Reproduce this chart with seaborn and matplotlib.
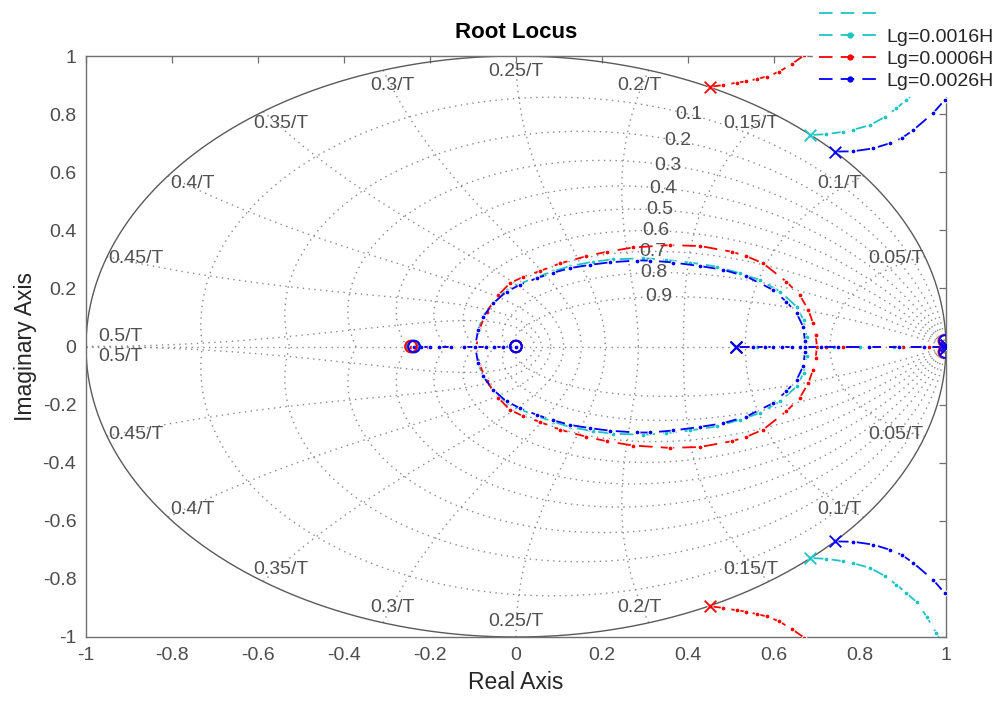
import numpy as np
import pandas as pd
import matplotlib
matplotlib.use("Agg")
import matplotlib.pyplot as plt
from matplotlib.lines import Line2D
import seaborn as sns

sns.set_theme(style="white")
plt.rcParams["font.family"] = ["Liberation Sans", "DejaVu Sans"]
plt.rcParams["lines.dashed_pattern"] = [7.5, 4.5]

# ---- data -------------------------------------------------------------
lg_labels = ["Lg=0.0016H", "Lg=0.0006H", "Lg=0.0026H"]
lg_colors = ["#1cc4c4", "#ff0000", "#0000ff"]

# complex pole branches (upper half; lower half is the conjugate)
cyan_pole_branch = [(0.684, 0.728), (0.722, 0.731), (0.761, 0.739), (0.784, 0.746),
                    (0.823, 0.762), (0.858, 0.790), (0.885, 0.820), (0.908, 0.849),
                    (0.932, 0.880), (0.955, 0.930), (0.978, 0.987), (0.99, 1.02)]
red_pole_branch = [(0.451, 0.894), (0.482, 0.900), (0.513, 0.908), (0.536, 0.913),
                   (0.560, 0.921), (0.583, 0.929), (0.612, 0.946), (0.641, 0.972),
                   (0.670, 1.002), (0.69, 1.04)]
blue_pole_branch = [(0.742, 0.671), (0.784, 0.672), (0.831, 0.682), (0.870, 0.700),
                    (0.897, 0.717), (0.924, 0.745), (0.970, 0.803), (0.998, 0.850),
                    (1.02, 0.88)]

# breakaway loops (upper half, from breakaway to break-in point)
cyan_loop = [(0.677, 0.0), (0.676, 0.034), (0.669, 0.091), (0.653, 0.137), (0.614, 0.189),
             (0.567, 0.229), (0.521, 0.252), (0.467, 0.275), (0.405, 0.289), (0.350, 0.298),
             (0.296, 0.304), (0.226, 0.300), (0.180, 0.292), (0.126, 0.277), (0.087, 0.259),
             (0.048, 0.239), (0.009, 0.216), (-0.022, 0.193), (-0.053, 0.152),
             (-0.076, 0.105), (-0.088, 0.058), (-0.093, 0.0)]
red_loop = [(0.700, 0.0), (0.697, 0.040), (0.691, 0.080), (0.680, 0.126), (0.660, 0.177),
            (0.629, 0.223), (0.575, 0.286), (0.536, 0.311), (0.502, 0.326), (0.428, 0.346),
            (0.358, 0.349), (0.273, 0.341), (0.211, 0.326), (0.164, 0.311), (0.102, 0.286),
            (0.056, 0.260), (0.017, 0.240), (-0.014, 0.218), (-0.041, 0.177),
            (-0.068, 0.120), (-0.085, 0.060), (-0.092, 0.0)]
blue_loop = [(0.673, 0.0), (0.672, 0.020), (0.668, 0.068), (0.653, 0.114), (0.629, 0.154),
             (0.598, 0.195), (0.536, 0.241), (0.482, 0.264), (0.428, 0.277), (0.366, 0.289),
             (0.312, 0.296), (0.281, 0.296), (0.219, 0.290), (0.172, 0.281), (0.126, 0.270),
             (0.087, 0.254), (0.048, 0.235), (0.009, 0.212), (-0.022, 0.189),
             (-0.053, 0.149), (-0.076, 0.103), (-0.088, 0.057), (-0.095, 0.0)]

# real-axis branches
cyan_real = [[0.512, 0.56, 0.60, 0.64, 0.677],
             [0.999, 0.95, 0.88, 0.80, 0.74, 0.70, 0.677],
             [-0.093, -0.12, -0.15, -0.18, -0.205, -0.225, -0.240],
             [-0.093, -0.07, -0.05, -0.03, -0.015, 0.0]]
red_real = [[0.512, 0.55, 0.598, 0.64, 0.67, 0.700],
            [0.999, 0.96, 0.90, 0.82, 0.76, 0.72, 0.700],
            [-0.092, -0.12, -0.15, -0.18, -0.205, -0.225, -0.244],
            [-0.092, -0.07, -0.05, -0.03, -0.015, 0.0]]
blue_real = [[0.512, 0.551, 0.579, 0.598, 0.619, 0.642, 0.660, 0.673],
             [0.999, 0.95, 0.89, 0.82, 0.75, 0.71, 0.673],
             [-0.095, -0.12, -0.15, -0.18, -0.20, -0.22, -0.237],
             [-0.095, -0.07, -0.05, -0.03, -0.015, 0.0]]

# open-loop poles and zeros (upper half + real)
cyan_poles = [(0.684, 0.728), (0.512, 0.0), (0.999, 0.006)]
red_poles = [(0.451, 0.894), (0.512, 0.0), (0.999, 0.006)]
blue_poles = [(0.742, 0.671), (0.512, 0.0), (0.999, 0.006)]
cyan_zeros = [(-0.240, 0.0), (0.0, 0.0), (0.997, 0.019)]
red_zeros = [(-0.244, 0.0), (0.0, 0.0), (0.996, 0.019)]
blue_zeros = [(-0.237, 0.0), (0.0, 0.0), (0.998, 0.019)]

zeta_values = [0.1, 0.2, 0.3, 0.4, 0.5, 0.6, 0.7, 0.8, 0.9]
zeta_label_theta = [1.105, 1.083, 1.056, 1.010, 0.951, 0.885, 0.799, 0.670, 0.478]
wn_labels = ["0.05/T", "0.1/T", "0.15/T", "0.2/T", "0.25/T",
             "0.3/T", "0.35/T", "0.4/T", "0.45/T", "0.5/T"]
ticks = [-1, -0.8, -0.6, -0.4, -0.2, 0, 0.2, 0.4, 0.6, 0.8, 1]
tick_text = ["-1", "-0.8", "-0.6", "-0.4", "-0.2", "0", "0.2", "0.4", "0.6", "0.8", "1"]

# ---- figure -------------------------------------------------------------
fig = plt.figure(figsize=(10.01, 7.02), dpi=100)
ax = fig.add_axes([0.0859, 0.0926, 0.8591, 0.8276])
ax.set_facecolor("white")

grid_kw = dict(color="#8a8a8a", lw=1.0, linestyle=(0, (1, 3.2)), zorder=1)
label_kw = dict(color="#505050", fontsize=14, ha="center", va="center", zorder=2)

# constant damping spirals
th = np.linspace(0, np.pi, 400)
for z, tl in zip(zeta_values, zeta_label_theta):
    m = z / np.sqrt(1 - z ** 2)
    r = np.exp(-m * th)
    ax.plot(r * np.cos(th), r * np.sin(th), **grid_kw)
    ax.plot(r * np.cos(th), -r * np.sin(th), **grid_kw)
    rl = np.exp(-m * tl)
    ax.text(rl * np.cos(tl), rl * np.sin(tl), f"{z:.1f}", **label_kw)
ax.plot([-1, 1], [0, 0], **grid_kw)

# constant natural-frequency curves
zz = np.linspace(0, 1, 300)
for k, lab in enumerate(wn_labels, start=1):
    wn = k * np.pi / 10
    s_re = -zz * wn
    s_im = wn * np.sqrt(1 - zz ** 2)
    zr = np.exp(s_re) * np.cos(s_im)
    zi = np.exp(s_re) * np.sin(s_im)
    ax.plot(zr, zi, **grid_kw)
    ax.plot(zr, -zi, **grid_kw)
    ang = wn
    lx, ly = 0.93 * np.cos(ang), 0.93 * np.sin(ang)
    if k == 10:
        ax.text(lx + 0.01, 0.035, lab, **label_kw)
        ax.text(lx + 0.01, -0.035, lab, **label_kw)
    else:
        ax.text(lx, ly + 0.015, lab, **label_kw)
        ax.text(lx, -ly - 0.015, lab, **label_kw)

# unit circle
uc = np.linspace(0, 2 * np.pi, 500)
ax.plot(np.cos(uc), np.sin(uc), color="#5a5a5a", lw=1.0, zorder=1.5)

# ---- root loci ------------------------------------------------------------
systems = [
    (cyan_pole_branch, cyan_loop, cyan_real, cyan_poles, cyan_zeros),
    (red_pole_branch, red_loop, red_real, red_poles, red_zeros),
    (blue_pole_branch, blue_loop, blue_real, blue_poles, blue_zeros),
]

line_kw = dict(linestyle="--", marker=".", markersize=7, lw=1.3, sort=False,
               estimator=None, legend=False, zorder=3)
handles = []
for (pole_br, loop, real_br, poles, zeros), col, lab in zip(systems, lg_colors, lg_labels):
    for sign in (1, -1):
        for pts in (pole_br, loop):
            df = pd.DataFrame(pts, columns=["re", "im"])
            df["im"] = sign * df["im"]
            sns.lineplot(data=df, x="re", y="im", color=col, ax=ax, **line_kw)
    for xs in real_br:
        df = pd.DataFrame({"re": xs, "im": [0.0] * len(xs)})
        sns.lineplot(data=df, x="re", y="im", color=col, ax=ax, **line_kw)
    pdf = pd.DataFrame(poles, columns=["re", "im"])
    pdf = pd.concat([pdf, pdf.assign(im=-pdf["im"])])
    zdf = pd.DataFrame(zeros, columns=["re", "im"])
    zdf = pd.concat([zdf, zdf.assign(im=-zdf["im"])])
    sns.scatterplot(data=pdf, x="re", y="im", marker="x", s=70, color=col,
                    linewidth=1.3, ax=ax, zorder=4, legend=False)
    sns.scatterplot(data=zdf, x="re", y="im", marker="o", s=70, facecolor="none",
                    edgecolor=col, linewidth=1.3, ax=ax, zorder=4, legend=False)
    handles.append(Line2D([], [], color=col, linestyle="--", marker=".",
                          markersize=7, lw=1.3, markevery=[0, -1]))

# ---- axes styling -----------------------------------------------------------
ax.set_xlim(-1, 1)
ax.set_ylim(-1, 1)
ax.set_xticks(ticks)
ax.set_xticklabels(tick_text)
ax.set_yticks(ticks)
ax.set_yticklabels(tick_text)
ax.tick_params(direction="in", top=True, right=True, length=5, width=0.9,
               color="#707070", labelcolor="#4d4d4d", labelsize=14, pad=7)
for sp in ax.spines.values():
    sp.set_color("#707070")
    sp.set_linewidth(1.0)
ax.grid(False)
ax.set_xlabel("Real Axis", fontsize=16.5, color="#262626", labelpad=5)
ax.set_ylabel("Imaginary Axis", fontsize=16.5, color="#262626", labelpad=4)
ax.set_title("Root Locus", fontsize=16, fontweight="bold", color="black", pad=13)

blank = Line2D([], [], color=lg_colors[0], linestyle="--", lw=1.3)
leg = fig.legend([blank] + handles, [""] + lg_labels, loc="upper right",
                 bbox_to_anchor=(0.998, 0.999), fontsize=14, frameon=True,
                 facecolor="white", edgecolor="white", framealpha=1.0,
                 handlelength=3.25, handletextpad=0.2, labelspacing=0.22,
                 borderpad=0.3, borderaxespad=0.0)
leg.set_zorder(10)

fig.savefig("out.png", dpi=100)
